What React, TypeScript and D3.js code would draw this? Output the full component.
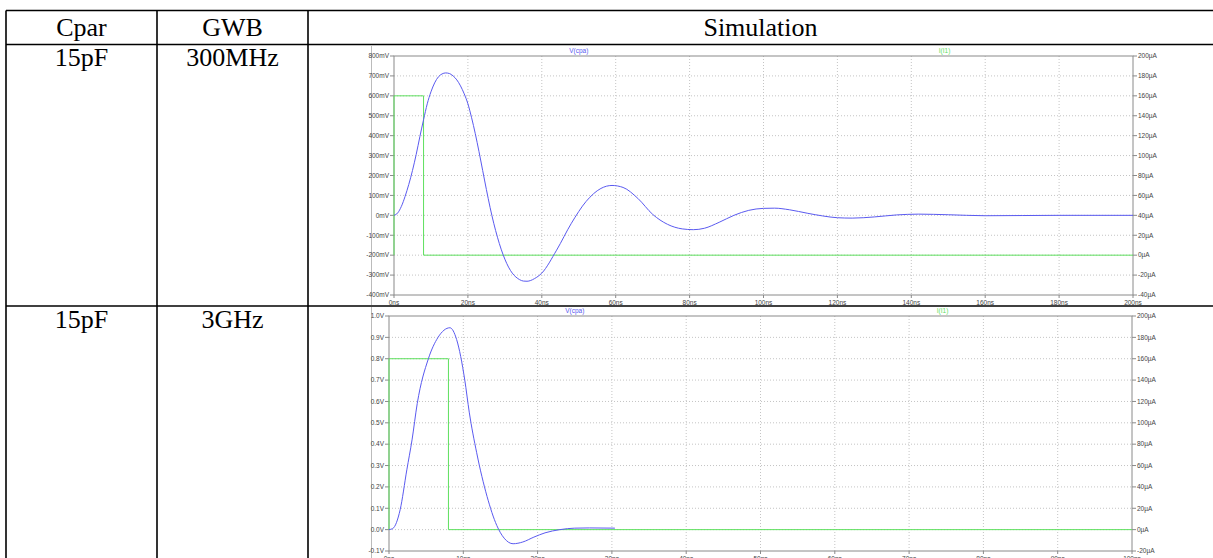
import { useEffect } from "react";
import * as d3 from "d3";

// table text
const headers = ["Cpar", "GWB", "Simulation"];
const cparValues = ["15pF", "15pF"];
const gwbValues = ["300MHz", "3GHz"];

// plot 1 : GWB 300MHz  (time in ns, V(cpa) in mV)
const p1Time = [0, 1, 2, 3, 4, 5, 6, 7, 8, 9, 10, 11, 12, 13, 14, 15, 16, 17, 18, 19, 20, 21, 22, 23, 24, 25, 26, 27, 28, 29, 30, 31, 32, 33, 34, 35, 36, 38, 40, 44, 48, 52, 56, 59, 62, 66, 70, 74, 78, 81, 84, 88, 92, 96, 100, 103, 107, 112, 116, 120, 124, 130, 136, 142, 150, 160, 170, 180, 200];
const p1Volt = [0, 12, 45, 95, 155, 225, 305, 395, 480, 560, 620, 665, 695, 710, 715, 712, 700, 680, 650, 610, 560, 490, 410, 320, 225, 130, 40, -40, -110, -170, -220, -260, -290, -310, -323, -330, -331, -318, -290, -175, -40, 70, 135, 150, 140, 85, 5, -45, -68, -72, -65, -35, 0, 25, 35, 36, 28, 10, -3, -12, -14, -8, 2, 6, 3, -2, -1, 0, 0];
const p1PulseT = [0, 0, 8, 8, 200];
const p1PulseI = [0, 160, 160, 0, 0];
const p1XTicks = [0, 20, 40, 60, 80, 100, 120, 140, 160, 180, 200];
const p1LeftTicks = [800, 700, 600, 500, 400, 300, 200, 100, 0, -100, -200, -300, -400];
const p1RightTicks = [200, 180, 160, 140, 120, 100, 80, 60, 40, 20, 0, -20, -40];

// plot 2 : GWB 3GHz  (time in ns, V(cpa) in V)
const p2Time = [0, 0.5, 1.5, 2.4, 3.1, 3.8, 5.3, 6.6, 8.2, 9.1, 10.2, 10.8, 11.8, 13.2, 14.5, 15.5, 16.7, 18, 19.5, 21, 23, 25, 27, 30.4];
const p2Volt = [0, 0.005, 0.093, 0.28, 0.42, 0.59, 0.8, 0.9, 0.945, 0.89, 0.7, 0.55, 0.36, 0.155, 0.02, -0.04, -0.066, -0.058, -0.035, -0.015, 0, 0.007, 0.008, 0.007];
const p2PulseT = [0, 0, 8, 8, 100];
const p2PulseI = [0, 160, 160, 0, 0];
const p2XTicks = [0, 10, 20, 30, 40, 50, 60, 70, 80, 90, 100];
const p2LeftTicks = [1.0, 0.9, 0.8, 0.7, 0.6, 0.5, 0.4, 0.3, 0.2, 0.1, 0.0, -0.1];
const p2RightTicks = [200, 180, 160, 140, 120, 100, 80, 60, 40, 20, 0, -20];

const traceNames = ["V(cpa)", "I(I1)"];

const BLUE = "#5a5af0";
const GREEN = "#5ee05e";
const SMALL = "'Liberation Sans', Arial, sans-serif";

interface PanelProps {
  left: number;
  right: number;
  top: number;
  bottom: number;
  xTicks: number[];
  xFmt: (v: number) => string;
  yTicks: number[];
  yFmt: (v: number) => string;
  y2Ticks: number[];
  y2Fmt: (v: number) => string;
  vT: number[];
  vV: number[];
  iT: number[];
  iI: number[];
  titleY: number;
}

function Panel(p: PanelProps) {
  const x = d3
    .scaleLinear()
    .domain([p.xTicks[0], p.xTicks[p.xTicks.length - 1]])
    .range([p.left, p.right]);
  const y = d3
    .scaleLinear()
    .domain([p.yTicks[p.yTicks.length - 1], p.yTicks[0]])
    .range([p.bottom, p.top]);
  const y2 = d3
    .scaleLinear()
    .domain([p.y2Ticks[p.y2Ticks.length - 1], p.y2Ticks[0]])
    .range([p.bottom, p.top]);

  const vLine = d3
    .line<number>()
    .x((_, i) => x(p.vT[i]))
    .y((d) => y(d))
    .curve(d3.curveMonotoneX);
  const iLine = d3
    .line<number>()
    .x((_, i) => x(p.iT[i]))
    .y((d) => y2(d));

  return (
    <g>
      {/* grid */}
      {p.xTicks.slice(1, -1).map((t) => (
        <line key={"gx" + t} x1={x(t)} x2={x(t)} y1={p.top} y2={p.bottom} stroke="#c4c4c4" strokeDasharray="1,2" />
      ))}
      {p.yTicks.slice(1, -1).map((t) => (
        <line key={"gy" + t} x1={p.left} x2={p.right} y1={y(t)} y2={y(t)} stroke="#c4c4c4" strokeDasharray="1,2" />
      ))}

      {/* frame */}
      <rect x={p.left} y={p.top} width={p.right - p.left} height={p.bottom - p.top} fill="none" stroke="#8a8a8a" />

      {/* ticks + labels */}
      {p.xTicks.map((t) => (
        <g key={"tx" + t}>
          <line x1={x(t)} x2={x(t)} y1={p.bottom} y2={p.bottom + 3} stroke="#8a8a8a" />
          <text x={x(t)} y={p.bottom + 10} textAnchor="middle" fontSize={6.5} fontFamily={SMALL} fill="#444">
            {p.xFmt(t)}
          </text>
        </g>
      ))}
      {p.yTicks.map((t) => (
        <g key={"ty" + t}>
          <line x1={p.left - 4} x2={p.left} y1={y(t)} y2={y(t)} stroke="#8a8a8a" />
          <text x={p.left - 5} y={y(t) + 2.3} textAnchor="end" fontSize={6.5} fontFamily={SMALL} fill="#444">
            {p.yFmt(t)}
          </text>
        </g>
      ))}
      {p.y2Ticks.map((t) => (
        <g key={"tr" + t}>
          <line x1={p.right} x2={p.right + 4} y1={y2(t)} y2={y2(t)} stroke="#8a8a8a" />
          <text x={p.right + 5} y={y2(t) + 2.3} textAnchor="start" fontSize={6.5} fontFamily={SMALL} fill="#444">
            {p.y2Fmt(t)}
          </text>
        </g>
      ))}

      {/* traces */}
      <path d={iLine(p.iI) ?? ""} fill="none" stroke={GREEN} strokeWidth={1} />
      <path d={vLine(p.vV) ?? ""} fill="none" stroke={BLUE} strokeWidth={1} />

      <text x={p.left + (p.right - p.left) * 0.25} y={p.titleY} textAnchor="middle" fontSize={6.5} fontFamily={SMALL} fill={BLUE}>
        {traceNames[0]}
      </text>
      <text x={p.left + (p.right - p.left) * 0.745} y={p.titleY} textAnchor="middle" fontSize={6.5} fontFamily={SMALL} fill={GREEN}>
        {traceNames[1]}
      </text>
    </g>
  );
}

export default function App() {
  useEffect(() => {
    document.body.style.margin = "0";
  }, []);

  const W = 1213;
  const H = 558;
  const colX = [6, 157, 308];
  const rowY = [10.5, 44.5, 306];
  const serif = "'Liberation Serif', 'Times New Roman', serif";
  const fs = 26;

  return (
    <svg width={W} height={H} style={{ position: "absolute", left: 0, top: 0, background: "#fff" }}>
      {/* table grid */}
      {rowY.map((yy) => (
        <line key={"r" + yy} x1={colX[0]} x2={W} y1={yy} y2={yy} stroke="#000" strokeWidth={1.6} />
      ))}
      {colX.map((xx) => (
        <line key={"c" + xx} x1={xx} x2={xx} y1={rowY[0]} y2={H} stroke="#000" strokeWidth={1.6} />
      ))}

      {/* header */}
      <text x={(colX[0] + colX[1]) / 2} y={36} textAnchor="middle" fontSize={fs} fontFamily={serif}>
        {headers[0]}
      </text>
      <text x={(colX[1] + colX[2]) / 2} y={36} textAnchor="middle" fontSize={fs} fontFamily={serif}>
        {headers[1]}
      </text>
      <text x={(colX[2] + W) / 2} y={36} textAnchor="middle" fontSize={fs} fontFamily={serif}>
        {headers[2]}
      </text>

      {/* row labels */}
      {[66, 327.5].map((by, i) => (
        <g key={"row" + i}>
          <text x={(colX[0] + colX[1]) / 2} y={by} textAnchor="middle" fontSize={fs} fontFamily={serif}>
            {cparValues[i]}
          </text>
          <text x={(colX[1] + colX[2]) / 2} y={by} textAnchor="middle" fontSize={fs} fontFamily={serif}>
            {gwbValues[i]}
          </text>
        </g>
      ))}

      {/* screenshot backgrounds */}
      <rect x={371} y={46} width={782} height={259} fill="#fff" />
      <line x1={371.5} x2={371.5} y1={46} y2={305} stroke="#bbb" />
      <rect x={371} y={307} width={782} height={H - 307} fill="#fff" />
      <line x1={371.5} x2={371.5} y1={307} y2={H} stroke="#bbb" />

      <Panel
        left={394}
        right={1133}
        top={56}
        bottom={295}
        xTicks={p1XTicks}
        xFmt={(v) => `${v}ns`}
        yTicks={p1LeftTicks}
        yFmt={(v) => `${v}mV`}
        y2Ticks={p1RightTicks}
        y2Fmt={(v) => `${v}µA`}
        vT={p1Time}
        vV={p1Volt}
        iT={p1PulseT}
        iI={p1PulseI}
        titleY={53}
      />
      <Panel
        left={389}
        right={1132}
        top={316}
        bottom={551}
        xTicks={p2XTicks}
        xFmt={(v) => `${v}ns`}
        yTicks={p2LeftTicks}
        yFmt={(v) => `${v.toFixed(1)}V`}
        y2Ticks={p2RightTicks}
        y2Fmt={(v) => `${v}µA`}
        vT={p2Time}
        vV={p2Volt}
        iT={p2PulseT}
        iI={p2PulseI}
        titleY={313}
      />
    </svg>
  );
}
